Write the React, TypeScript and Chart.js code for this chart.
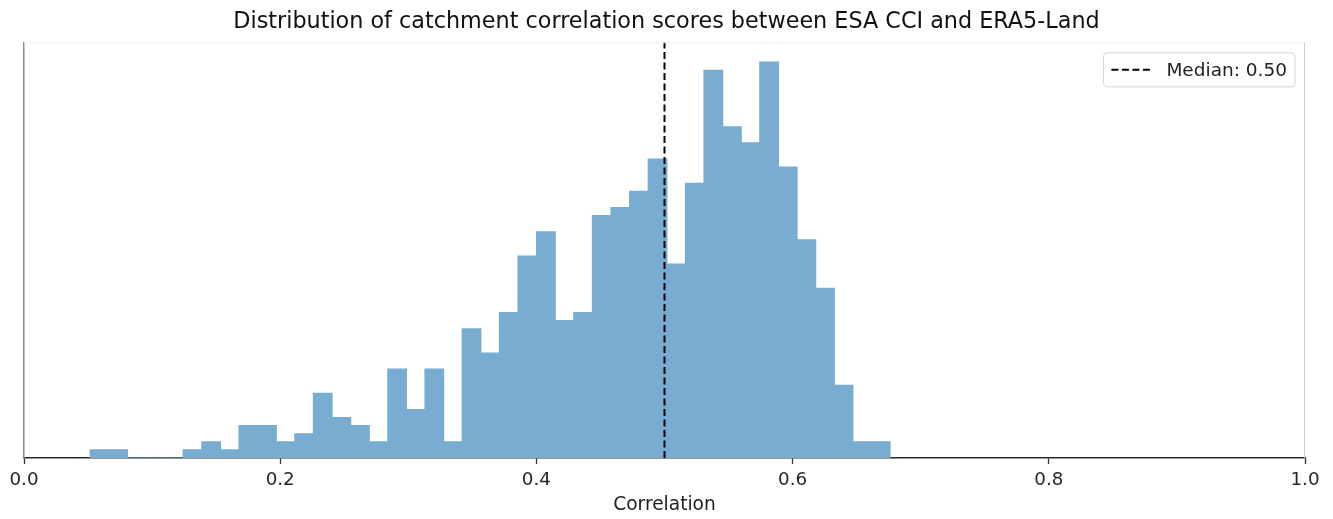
import React, { useEffect, useRef } from "react";
import { Chart, registerables } from "chart.js";

Chart.register(...registerables);

// ---- data ----
const TITLE = "Distribution of catchment correlation scores between ESA CCI and ERA5-Land";
const X_LABEL = "Correlation";
const binStart = 0.0517;
const binWidth = 0.01452;
const binCounts = [
  1, 1, 0, 0, 0, 1, 2, 1, 4, 4,
  2, 3, 8, 5, 4, 2, 11, 6, 11, 2,
  16, 13, 18, 25, 28, 17, 18, 30, 31, 33,
  37, 24, 34, 48, 41, 39, 49, 36, 27, 21,
  9, 2, 2,
];
const medianValue = 0.5;
const medianLabel = "Median: 0.50";
const xTickValues = [0, 0.2, 0.4, 0.6, 0.8, 1.0];
const xTickLabels = ["0.0", "0.2", "0.4", "0.6", "0.8", "1.0"];
const yMax = 51.45;

const FONT = "'DejaVu Sans', sans-serif";

const framePlugin = {
  id: "frame",
  afterDatasetsDraw(chart: any) {
    const { ctx, chartArea: a } = chart;
    ctx.save();
    ctx.lineWidth = 1;
    ctx.strokeStyle = "#eeeeee";
    ctx.beginPath();
    ctx.moveTo(a.left, a.top + 0.5);
    ctx.lineTo(a.right, a.top + 0.5);
    ctx.stroke();
    ctx.strokeStyle = "#cccccc";
    ctx.beginPath();
    ctx.moveTo(a.right - 0.5, a.top);
    ctx.lineTo(a.right - 0.5, a.bottom);
    ctx.stroke();
    ctx.restore();
  },
};

const boxLegendPlugin = {
  id: "boxLegend",
  afterDraw(chart: any) {
    const ds = chart.data.datasets[1];
    const { ctx, chartArea: a } = chart;
    ctx.save();
    ctx.font = `18.5px ${FONT}`;
    const tw = ctx.measureText(ds.label).width;
    const pad = 8, lineLen = 42, gap = 13, h = 34;
    const w = pad + lineLen + gap + tw + pad;
    const x = a.right - 10 - w;
    const y = a.top + 10.5;
    const r = 4;
    ctx.beginPath();
    ctx.moveTo(x + r, y);
    ctx.lineTo(x + w - r, y);
    ctx.quadraticCurveTo(x + w, y, x + w, y + r);
    ctx.lineTo(x + w, y + h - r);
    ctx.quadraticCurveTo(x + w, y + h, x + w - r, y + h);
    ctx.lineTo(x + r, y + h);
    ctx.quadraticCurveTo(x, y + h, x, y + h - r);
    ctx.lineTo(x, y + r);
    ctx.quadraticCurveTo(x, y, x + r, y);
    ctx.closePath();
    ctx.fillStyle = "rgba(255,255,255,0.8)";
    ctx.fill();
    ctx.lineWidth = 1;
    ctx.strokeStyle = "#d6d6d6";
    ctx.stroke();
    ctx.beginPath();
    ctx.setLineDash(ds.borderDash);
    ctx.lineWidth = ds.borderWidth;
    ctx.strokeStyle = ds.borderColor;
    ctx.moveTo(x + pad, y + h / 2);
    ctx.lineTo(x + pad + lineLen, y + h / 2);
    ctx.stroke();
    ctx.setLineDash([]);
    ctx.fillStyle = "#222222";
    ctx.textBaseline = "middle";
    ctx.textAlign = "left";
    ctx.fillText(ds.label, x + pad + lineLen + gap, y + h / 2 + 1);
    ctx.restore();
  },
};

export default function App() {
  const ref = useRef<HTMLCanvasElement | null>(null);

  useEffect(() => {
    document.body.style.margin = "0";
    const canvas = ref.current;
    if (!canvas) return;
    const histData = binCounts.map((c, i) => ({ x: binStart + (i + 0.5) * binWidth, y: c }));
    const chart = new Chart(canvas, {
      type: "bar",
      data: {
        datasets: [
          {
            type: "bar",
            label: "Counts",
            data: histData,
            backgroundColor: "#78acd1",
            borderWidth: 0,
            barPercentage: 1,
            categoryPercentage: 1,
            inflateAmount: 0.6,
            order: 2,
          } as any,
          {
            type: "line",
            label: medianLabel,
            data: [
              { x: medianValue, y: 0 },
              { x: medianValue, y: yMax },
            ],
            borderColor: "#000000",
            borderWidth: 2,
            borderDash: [7, 3.5],
            pointRadius: 0,
            fill: false,
            order: 1,
          } as any,
        ],
      },
      options: {
        responsive: false,
        animation: false,
        devicePixelRatio: 1,
        layout: { padding: 0 },
        font: { family: FONT },
        plugins: {
          legend: { display: false },
          tooltip: { enabled: false },
          title: {
            display: true,
            text: TITLE,
            color: "#111111",
            font: { family: FONT, size: 22.3, weight: "normal" },
            padding: { top: 9, bottom: 6.6 },
          },
        },
        scales: {
          x: {
            type: "linear",
            min: xTickValues[0],
            max: xTickValues[xTickValues.length - 1],
            offset: false,
            afterFit: (s: any) => {
              s.height = 61;
              s.paddingRight = 28;
              s.paddingLeft = 0;
            },
            ticks: {
              stepSize: xTickValues[1] - xTickValues[0],
              autoSkip: false,
              maxRotation: 0,
              padding: 5,
              color: "#262626",
              font: { family: FONT, size: 18.3 },
              callback: (v: any) => {
                const i = xTickValues.findIndex((t) => Math.abs(t - Number(v)) < 1e-6);
                return i >= 0 ? xTickLabels[i] : "";
              },
            },
            grid: {
              display: true,
              offset: false,
              drawOnChartArea: false,
              drawTicks: true,
              tickLength: 6,
              tickColor: "#333333",
              tickWidth: 1.3,
            },
            border: { display: true, color: "#2a2a2a", width: 1.5 },
            title: {
              display: true,
              text: X_LABEL,
              color: "#222222",
              font: { family: FONT, size: 18.6 },
              padding: { top: 0, bottom: 3 },
            },
          },
          y: {
            type: "linear",
            min: 0,
            max: yMax,
            afterFit: (s: any) => {
              s.width = 24;
            },
            ticks: { display: false },
            grid: { display: false, drawTicks: false },
            border: { display: true, color: "#8a8a8a", width: 1.5 },
          },
        },
      } as any,
      plugins: [framePlugin, boxLegendPlugin],
    });
    return () => chart.destroy();
  }, []);

  return (
    <div style={{ width: 1333, height: 519, position: "relative" }}>
      <canvas ref={ref} width={1333} height={519} style={{ display: "block" }} />
    </div>
  );
}
